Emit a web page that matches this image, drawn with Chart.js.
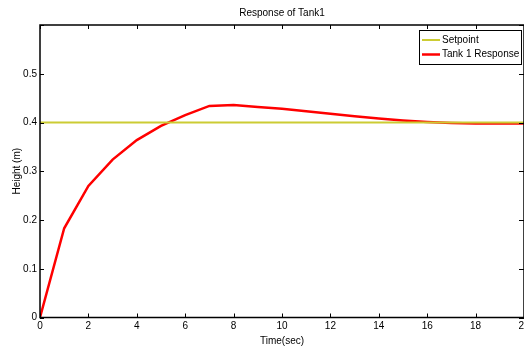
<!DOCTYPE html>
<html>
<head>
<meta charset="utf-8">
<script src="https://cdn.jsdelivr.net/npm/chart.js@4"></script>
<style>
  html, body { margin: 0; padding: 0; background: #fff; }
  #box { width: 524px; height: 348px; }
</style>
</head>
<body>
<div id="box"><canvas id="myChart"></canvas></div>
<script>
const times = [0, 1, 2, 3, 4, 5, 6, 7, 8, 9, 10, 11, 12, 13, 14, 15, 16, 17, 18, 19, 20];
const tankResponse = [0, 0.183, 0.270, 0.324, 0.364, 0.393, 0.415, 0.434, 0.436, 0.432, 0.428,
                      0.423, 0.418, 0.413, 0.408, 0.404, 0.401, 0.399, 0.398, 0.398, 0.398];
const setpointValue = 0.4;
const setpoint = times.map(() => setpointValue);

const font = { family: 'Arial, "Liberation Sans", sans-serif', size: 10 };

// matlab style frame, inward ticks and boxed legend
const matlabFrame = {
  id: 'matlabFrame',
  afterDraw(chart) {
    const c = chart.ctx;
    const a = chart.chartArea;
    const xs = chart.scales.x;
    const ys = chart.scales.y;
    c.save();
    c.strokeStyle = '#000';
    c.lineWidth = 1.5;
    c.strokeRect(a.left, a.top, a.right - a.left, a.bottom - a.top);
    c.lineWidth = 1;
    c.beginPath();
    xs.ticks.forEach(t => {
      const px = Math.round(xs.getPixelForValue(t.value)) + 0.5;
      c.moveTo(px, a.bottom); c.lineTo(px, a.bottom - 4);
      c.moveTo(px, a.top); c.lineTo(px, a.top + 4);
    });
    ys.ticks.forEach(t => {
      const py = Math.round(ys.getPixelForValue(t.value)) + 0.5;
      c.moveTo(a.left, py); c.lineTo(a.left + 4, py);
      c.moveTo(a.right, py); c.lineTo(a.right - 5, py);
    });
    c.stroke();

    // legend
    const lx = 419, ly = 30, lw = 102, lh = 34;
    c.fillStyle = '#fff';
    c.fillRect(lx, ly, lw, lh);
    c.strokeStyle = '#000';
    c.lineWidth = 1;
    c.strokeRect(lx + 0.5, ly + 0.5, lw, lh);
    c.font = font.size + 'px ' + font.family;
    c.textBaseline = 'middle';
    chart.data.datasets.forEach((ds, i) => {
      const y = ly + 10 + i * 14.5;
      c.strokeStyle = ds.borderColor;
      c.lineWidth = ds.borderWidth;
      c.beginPath();
      c.moveTo(lx + 3, y); c.lineTo(lx + 21, y);
      c.stroke();
      c.fillStyle = '#000';
      c.fillText(ds.label, lx + 23, y);
    });
    c.restore();
  }
};

const ctx = document.getElementById('myChart').getContext('2d');
const sensorsChart = new Chart(ctx, {
  type: 'line',
  data: {
    datasets: [
      {
        label: 'Setpoint',
        data: times.map((t, i) => ({ x: t, y: setpoint[i] })),
        borderColor: '#cccc33',
        borderWidth: 2,
        pointRadius: 0,
        tension: 0,
      },
      {
        label: 'Tank 1 Response',
        data: times.map((t, i) => ({ x: t, y: tankResponse[i] })),
        borderColor: '#ff0000',
        borderWidth: 2.5,
        pointRadius: 0,
        tension: 0,
      },
    ],
  },
  options: {
    responsive: true,
    maintainAspectRatio: false,
    animation: false,
    layout: { padding: { right: -2.5, left: 0, top: 0, bottom: 0 } },
    plugins: {
      legend: { display: false },
      tooltip: { enabled: false },
      title: {
        display: true,
        text: 'Response of Tank1',
        color: '#000',
        font: { ...font, weight: 'normal' },
        fullSize: false,
        padding: { top: 7, bottom: 6 },
      },
    },
    scales: {
      x: {
        type: 'linear',
        min: 0,
        max: 20,
        grid: { display: false, drawTicks: false },
        border: { display: false },
        ticks: { stepSize: 2, color: '#000', font: font, padding: 3, maxRotation: 0 },
        title: { display: true, text: 'Time(sec)', color: '#000', font: font, padding: { top: 0, bottom: 1 } },
        afterFit(scale) {
          scale.height = 30.5;
          scale.paddingLeft = 0;
          scale.paddingRight = 0;
        },
      },
      y: {
        min: 0,
        max: 0.6,
        grid: { display: false, drawTicks: false },
        border: { display: false },
        ticks: {
          stepSize: 0.1,
          color: '#000',
          font: font,
          padding: 3,
          callback: v => (Math.abs(v - 0.6) < 1e-9 ? '' : Math.round(v * 10) / 10),
        },
        title: { display: true, text: 'Height (m)', color: '#000', font: font, padding: { top: 11, bottom: 0 } },
        afterFit(scale) {
          scale.width = 40;
          scale.paddingTop = 0;
          scale.paddingBottom = 0;
        },
      },
    },
  },
  plugins: [matlabFrame],
});
</script>
</body>
</html>
